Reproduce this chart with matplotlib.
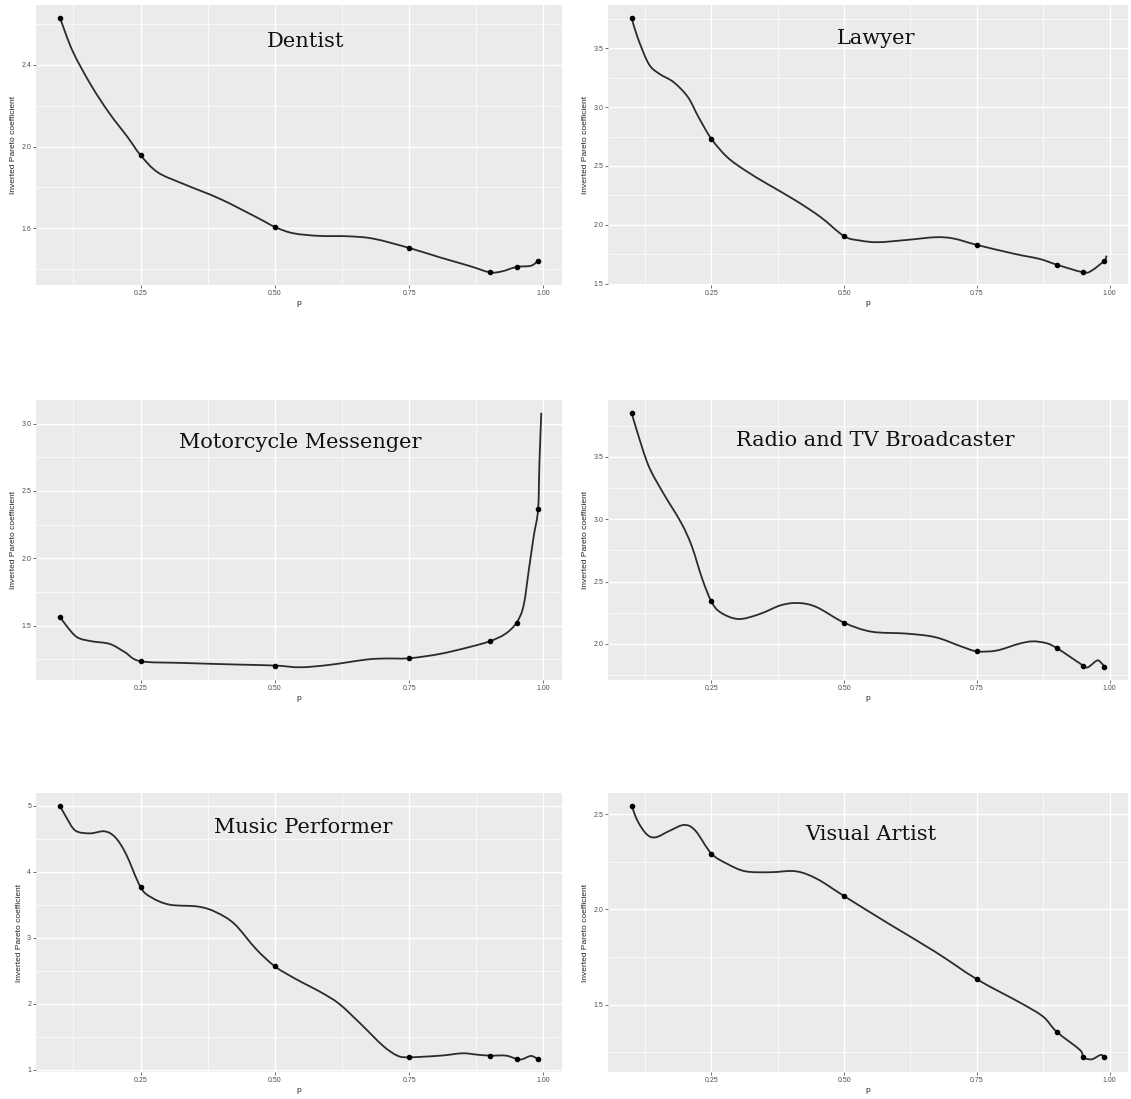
import numpy as np
import matplotlib
matplotlib.use("Agg")
import matplotlib.pyplot as plt
from matplotlib.path import Path
from matplotlib.patches import PathPatch

# estimated quantiles where the coefficient is reported
P_DOTS = [0.10, 0.25, 0.50, 0.75, 0.90, 0.95, 0.99]

# --- Dentist ---
dentist_dots = [2.630, 1.958, 1.607, 1.504, 1.385, 1.411, 1.442]
dentist_p = [0.100, 0.124, 0.158, 0.192, 0.226, 0.250, 0.282, 0.330, 0.398, 0.466,
             0.500, 0.534, 0.582, 0.636, 0.684, 0.750, 0.807, 0.861, 0.900, 0.922,
             0.950, 0.977, 0.990]
dentist_curve = [2.630, 2.465, 2.300, 2.163, 2.046, 1.958, 1.874, 1.817, 1.744, 1.654,
                 1.607, 1.576, 1.563, 1.561, 1.549, 1.504, 1.458, 1.417, 1.385, 1.389,
                 1.411, 1.417, 1.442]

# --- Lawyer ---
lawyer_dots = [3.757, 2.731, 1.905, 1.831, 1.664, 1.599, 1.698]
lawyer_p = [0.100, 0.111, 0.132, 0.152, 0.179, 0.206, 0.226, 0.250, 0.280, 0.314,
            0.355, 0.409, 0.456, 0.500, 0.530, 0.564, 0.618, 0.672, 0.706, 0.750,
            0.821, 0.868, 0.900, 0.950, 0.966, 0.990, 0.994]
lawyer_curve = [3.757, 3.593, 3.367, 3.282, 3.211, 3.084, 2.914, 2.731, 2.575, 2.462,
                2.349, 2.207, 2.066, 1.905, 1.868, 1.854, 1.873, 1.896, 1.885, 1.831,
                1.755, 1.712, 1.664, 1.599, 1.613, 1.698, 1.740]

# --- Motorcycle Messenger ---
moto_dots = [1.566, 1.235, 1.203, 1.257, 1.383, 1.522, 2.362]
moto_p = [0.100, 0.112, 0.132, 0.159, 0.193, 0.221, 0.250, 0.330, 0.432, 0.500,
          0.548, 0.602, 0.670, 0.704, 0.750, 0.807, 0.861, 0.900, 0.929, 0.950,
          0.963, 0.973, 0.982, 0.990, 0.9925, 0.996]
moto_curve = [1.566, 1.499, 1.413, 1.383, 1.363, 1.302, 1.235, 1.222, 1.210, 1.203,
              1.190, 1.208, 1.247, 1.255, 1.257, 1.289, 1.339, 1.383, 1.438, 1.522,
              1.648, 1.920, 2.167, 2.362, 2.711, 3.080]

# --- Radio and TV Broadcaster ---
radio_dots = [3.855, 2.342, 2.171, 1.941, 1.968, 1.827, 1.819]
radio_p = [0.100, 0.111, 0.132, 0.159, 0.193, 0.213, 0.233, 0.250, 0.267, 0.301,
           0.341, 0.382, 0.416, 0.449, 0.500, 0.551, 0.618, 0.672, 0.720, 0.750,
           0.787, 0.828, 0.855, 0.882, 0.900, 0.922, 0.950, 0.959, 0.976, 0.983,
           0.990]
radio_curve = [3.855, 3.695, 3.428, 3.214, 2.974, 2.787, 2.521, 2.342, 2.254, 2.200,
               2.240, 2.312, 2.328, 2.294, 2.171, 2.099, 2.083, 2.054, 1.981, 1.941,
               1.947, 2.000, 2.021, 2.005, 1.968, 1.907, 1.827, 1.813, 1.867, 1.853,
               1.819]

# --- Music Performer ---
music_dots = [5.000, 3.769, 2.569, 1.192, 1.217, 1.167, 1.161]
music_p = [0.100, 0.112, 0.129, 0.156, 0.183, 0.203, 0.223, 0.250, 0.270, 0.304,
           0.358, 0.391, 0.425, 0.465, 0.500, 0.539, 0.586, 0.620, 0.660, 0.701,
           0.728, 0.750, 0.809, 0.849, 0.876, 0.900, 0.930, 0.950, 0.960, 0.977,
           0.990]
music_curve = [5.000, 4.823, 4.622, 4.581, 4.612, 4.521, 4.269, 3.769, 3.613, 3.502,
               3.472, 3.386, 3.209, 2.831, 2.569, 2.377, 2.175, 1.999, 1.696, 1.368,
               1.217, 1.192, 1.217, 1.252, 1.232, 1.217, 1.217, 1.167, 1.161, 1.212,
               1.161]

# --- Visual Artist ---
visual_dots = [2.544, 2.293, 2.070, 1.634, 1.359, 1.225, 1.225]
visual_p = [0.100, 0.111, 0.128, 0.145, 0.172, 0.199, 0.220, 0.250, 0.280, 0.314,
            0.361, 0.409, 0.449, 0.500, 0.584, 0.672, 0.750, 0.834, 0.875, 0.900,
            0.944, 0.950, 0.966, 0.983, 0.990]
visual_curve = [2.544, 2.465, 2.395, 2.378, 2.413, 2.443, 2.413, 2.293, 2.239, 2.200,
                2.195, 2.200, 2.160, 2.070, 1.925, 1.777, 1.634, 1.507, 1.437, 1.359,
                1.263, 1.225, 1.214, 1.237, 1.225]

PANELS = [
    ("Dentist", dentist_p, dentist_curve, dentist_dots,
     [1.6, 2.0, 2.4], ["1.6", "2.0", "2.4"], 0.2, (0.513, 0.868)),
    ("Lawyer", lawyer_p, lawyer_curve, lawyer_dots,
     [1.5, 2.0, 2.5, 3.0, 3.5], ["1.5", "2.0", "2.5", "3.0", "3.5"], 0.25, (0.515, 0.882)),
    ("Motorcycle Messenger", moto_p, moto_curve, moto_dots,
     [1.5, 2.0, 2.5, 3.0], ["1.5", "2.0", "2.5", "3.0"], 0.25, (0.502, 0.85)),
    ("Radio and TV Broadcaster", radio_p, radio_curve, radio_dots,
     [2.0, 2.5, 3.0, 3.5], ["2.0", "2.5", "3.0", "3.5"], 0.25, (0.513, 0.857)),
    ("Music Performer", music_p, music_curve, music_dots,
     [1, 2, 3, 4, 5], ["1", "2", "3", "4", "5"], 0.5, (0.508, 0.878)),
    ("Visual Artist", visual_p, visual_curve, visual_dots,
     [1.5, 2.0, 2.5], ["1.5", "2.0", "2.5"], 0.25, (0.506, 0.85)),
]

X_TICKS = [0.25, 0.50, 0.75, 1.00]
X_LABELS = ["0.25", "0.50", "0.75", "1.00"]
X_MINOR = [0.125, 0.375, 0.625, 0.875]

PANEL_BG = "#EBEBEB"
TEXT_GREY = "#4D4D4D"
SANS = ["Liberation Sans", "DejaVu Sans"]

W, H = 1131, 1099
fig = plt.figure(figsize=(W / 100, H / 100), dpi=100)

# panel boxes in pixels: (left, top, right, bottom)
col_x = [(36, 562), (608, 1128)]
row_y = [(5, 285), (400, 680), (793, 1072)]


def ggplot_limits(lo, hi, frac=0.05):
    pad = (hi - lo) * frac
    return lo - pad, hi + pad


def smooth_path(ax, xs, ys):
    """Catmull-Rom through the points, drawn as cubic Bezier segments in display space."""
    pts = ax.transData.transform(np.column_stack([xs, ys]))
    n = len(pts)
    verts = [pts[0]]
    codes = [Path.MOVETO]
    for k in range(n - 1):
        p0 = pts[max(k - 1, 0)]
        p1 = pts[k]
        p2 = pts[k + 1]
        p3 = pts[min(k + 2, n - 1)]
        c1 = p1 + (p2 - p0) / 6.0
        c2 = p2 - (p3 - p1) / 6.0
        verts += [c1, c2, p2]
        codes += [Path.CURVE4] * 3
    return Path(verts, codes)


axes_info = []
for i, (title, cp, cv, dots, yt, ytl, ystep, tpos) in enumerate(PANELS):
    r, c = divmod(i, 2)
    x0, x1 = col_x[c]
    y0, y1 = row_y[r]
    ax = fig.add_axes([x0 / W, 1 - y1 / H, (x1 - x0) / W, (y1 - y0) / H])
    ax.set_facecolor(PANEL_BG)
    for s in ax.spines.values():
        s.set_visible(False)

    ax.set_xlim(*ggplot_limits(min(P_DOTS), max(P_DOTS)))
    lo = min(min(cv), min(dots))
    hi = max(max(cv), max(dots))
    ax.set_ylim(*ggplot_limits(lo, hi))

    ymin, ymax = ax.get_ylim()
    y_minor = [t + ystep for t in [yt[0] - 2 * ystep] + list(yt)
               if ymin <= t + ystep <= ymax]
    for m in X_MINOR:
        ax.axvline(m, color="white", lw=0.5, zorder=0)
    for m in y_minor:
        ax.axhline(m, color="white", lw=0.5, zorder=0)
    for t in X_TICKS:
        ax.axvline(t, color="white", lw=1.0, zorder=0)
    for t in yt:
        ax.axhline(t, color="white", lw=1.0, zorder=0)

    ax.plot(P_DOTS, dots, "o", color="black", ms=3.0, zorder=3)

    ax.set_xticks(X_TICKS)
    ax.set_xticklabels(X_LABELS)
    ax.set_yticks(yt)
    ax.set_yticklabels(ytl)
    ax.tick_params(axis="both", length=2, width=0.5, color="#333333",
                   labelsize=5, labelcolor=TEXT_GREY, pad=1.5)
    for lab in ax.get_xticklabels() + ax.get_yticklabels():
        lab.set_family(SANS)

    ax.set_xlabel("p", fontsize=6, family=SANS, color="#222222", labelpad=2)
    ax.set_ylabel("Inverted Pareto coefficient", fontsize=6, family=SANS,
                  color="#222222", labelpad=3)

    ax.text(tpos[0], tpos[1], title, transform=ax.transAxes, ha="center",
            va="center", fontsize=15, family=["DejaVu Serif"], color="#111111")
    axes_info.append((ax, cp, cv))

# curves are laid out once the axes limits are fixed
for ax, cp, cv in axes_info:
    path = smooth_path(ax, cp, cv)
    patch = PathPatch(path, transform=None, facecolor="none",
                      edgecolor="#2b2b2b", lw=1.3, zorder=2)
    patch.set_clip_path(ax.patch)
    ax.add_artist(patch)

fig.savefig("out.png", dpi=100)
